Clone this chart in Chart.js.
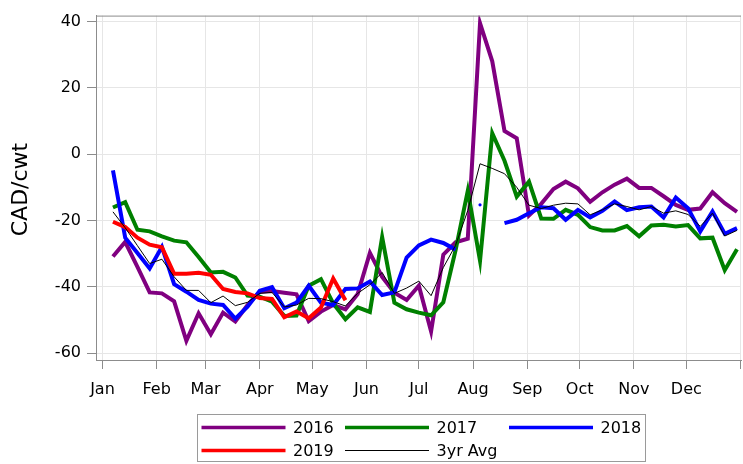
<!DOCTYPE html>
<html><head><meta charset="utf-8">
<script src="https://cdn.jsdelivr.net/npm/chart.js@4/dist/chart.umd.min.js"></script>
<style>html,body{margin:0;padding:0;background:#fff}#wrap{width:743px;height:464px;position:relative}</style>
</head><body><div id="wrap"><canvas id="c" width="743" height="464"></canvas></div>
<script>
// Week positions (day of year)
const weekDays = [6,13,20,27,34,41,48,55,62,69,76,83,90,97,104,111,118,125,132,139,146,153,160,167,174,181,188,195,202,209,216,223,230,237,244,251,258,265,272,279,286,293,300,307,314,321,328,335,342,349,356,363];
const monthTicks = [0,31,59,90,120,151,181,212,243,273,304,334,365];
const monthLabels = ['Jan','Feb','Mar','Apr','May','Jun','Jul','Aug','Sep','Oct','Nov','Dec',''];
const yTicks = [-60,-40,-20,0,20,40];

const s2016 = [-30.9,-26.5,-34,-41.7,-42,-44.4,-56.3,-48,-54.3,-47.8,-50.5,-45.5,-41.5,-41.3,-41.8,-42.3,-50.4,-47.5,-45.5,-46.8,-42.2,-29.8,-37,-41.8,-44,-39.7,-53.5,-30.3,-26.6,-25.5,39.5,28,7,4.8,-18.5,-15,-10.5,-8.3,-10.3,-14.4,-11.5,-9.2,-7.4,-10.2,-10.2,-12.7,-15.3,-16.8,-16.4,-11.5,-14.8,-17.4];
const s2017 = [-16.1,-14.5,-22.8,-23.3,-24.8,-26.1,-26.6,-31,-35.7,-35.5,-37.2,-42.7,-43,-44.5,-48.8,-48.7,-39.7,-37.7,-45,-49.8,-46.2,-47.6,-25,-44.8,-46.8,-47.8,-48.6,-44.7,-29,-11,-32.2,6.3,-2,-12.8,-8.3,-19.4,-19.5,-16.8,-18.3,-22,-23,-23,-21.7,-24.8,-21.5,-21.3,-21.8,-21.4,-25.4,-25.2,-35,-28.7];
const s2018 = [-4.9,-25.2,-29.8,-34.5,-28,-39.2,-41.5,-44,-45.1,-45.5,-49.6,-46,-41.2,-40.1,-46.5,-44.8,-39.7,-44.8,-45.5,-40.7,-40.5,-38.4,-42.5,-41.7,-31.2,-27.5,-25.8,-26.8,-28.8,null,-15.3,null,-20.8,-19.8,-17.8,-16,-16.3,-19.8,-16.8,-19.1,-17.1,-14.3,-16.9,-16,-15.8,-19.1,-13.1,-16.3,-23.3,-17.3,-24,-22.3];
const s2019 = [-20.4,-22,-25.2,-27.3,-28.1,-36.1,-36.1,-35.8,-36.4,-40.7,-41.6,-42,-43.4,-43.7,-49.2,-47.5,-49.5,-46.3,-37.5,-44.1];
const sAvg = [-17.4,-22.2,-27.6,-33,-31.7,-37,-41.1,-41.1,-44.8,-42.8,-45.7,-44.7,-42,-41.7,-46.1,-45.5,-43.5,-43.6,-44.5,-45.8,-42,-39.4,-35.7,-42,-40.4,-38.3,-42.7,-34.2,-27.5,-17,-2.9,-4.3,-5.9,-10,-15.4,-16.4,-15.4,-14.8,-15,-18.3,-16.8,-15,-15.8,-16.8,-15.8,-17.8,-17.1,-18.2,-21.8,-17.8,-24.7,-23];

const FONT = 'DejaVu Sans';
function pts(arr){ return arr.map((v,i)=>({x:weekDays[i], y:v})); }
function isolatedRadius(ctx){
  const d = ctx.dataset.data, i = ctx.dataIndex;
  if (!d[i] || d[i].y === null) return 0;
  const prev = i>0 ? d[i-1] : null, next = i<d.length-1 ? d[i+1] : null;
  const pn = !prev || prev.y === null, nn = !next || next.y === null;
  return (pn && nn) ? 1.6 : 0;
}
const series = [
  {label:'2016', data:s2016, color:'#800080', w:4, order:4},
  {label:'2017', data:s2017, color:'#008000', w:4, order:3},
  {label:'2018', data:s2018, color:'#0000ff', w:4, order:2},
  {label:'2019', data:s2019, color:'#ff0000', w:4, order:1},
  {label:'3yr Avg', data:sAvg, color:'#000000', w:1, order:0}
];

const frameAndText = {
  id:'frameAndText',
  afterDraw(chart){
    const c = chart.ctx, a = chart.chartArea;
    c.save();
    c.strokeStyle = '#8c8c8c'; c.lineWidth = 1;
    c.beginPath(); c.moveTo(a.left, a.top+0.5); c.lineTo(a.right, a.top+0.5); c.stroke();
    c.fillStyle = '#000';
    c.font = '22px "' + FONT + '"';
    c.translate(27, 189.5); c.rotate(-Math.PI/2);
    c.textAlign = 'center'; c.textBaseline = 'alphabetic';
    c.fillText('CAD/cwt', 0, 0);
    c.restore();
    c.save();
    c.strokeStyle = '#9a9a9a'; c.lineWidth = 1;
    c.strokeRect(197.5, 414.5, 448, 47);
    const pos = [[201.5,427.5],[345,427.5],[509,427.5],[201.5,450.5],[345,450.5]];
    c.font = '16px "' + FONT + '"';
    c.textBaseline = 'middle'; c.textAlign = 'left'; c.fillStyle = '#000';
    series.forEach((s,k)=>{
      const [x,y] = pos[k];
      c.strokeStyle = s.color; c.lineWidth = s.w === 4 ? 3.5 : 1;
      c.beginPath(); c.moveTo(x, y); c.lineTo(x+84, y); c.stroke();
      c.fillText(s.label, x+91.5, y+1);
    });
    c.restore();
  }
};

new Chart(document.getElementById('c'), {
  type:'line',
  data:{ datasets: series.map(s=>({
    label:s.label, data:pts(s.data), borderColor:s.color, backgroundColor:s.color,
    borderWidth:s.w, pointRadius:isolatedRadius, pointHoverRadius:0, pointBorderWidth:0,
    tension:0, spanGaps:false, fill:false, order:s.order, borderJoinStyle:'miter'
  }))},
  options:{
    responsive:false, animation:false, devicePixelRatio:1,
    layout:{ padding:{ top:12, right:2, left:0, bottom:0 } },
    plugins:{ legend:{display:false}, tooltip:{enabled:false} },
    scales:{
      x:{
        type:'linear', min:-3.7, max:365.3,
        afterBuildTicks:(s)=>{ s.ticks = monthTicks.map(v=>({value:v})); },
        afterFit:(s)=>{ s.height = 104; s.paddingLeft = 0; s.paddingRight = 0; },
        ticks:{ autoSkip:false, maxRotation:0, color:'#000', padding:11,
          font:{family:FONT, size:16},
          callback:(v)=> monthLabels[monthTicks.indexOf(v)] },
        grid:{ color:'#e6e6e6', tickColor:'#8c8c8c', tickLength:9, drawTicks:true },
        border:{ color:'#8c8c8c', width:1 }
      },
      y:{
        type:'linear', min:-62.1, max:41.8,
        afterBuildTicks:(s)=>{ s.ticks = yTicks.map(v=>({value:v})); },
        afterFit:(s)=>{ s.width = 96; },
        ticks:{ color:'#000', padding:6, font:{family:FONT, size:16},
          callback:(v)=> String(v) },
        grid:{ color:'#e6e6e6', tickColor:'#8c8c8c', tickLength:9, drawTicks:true },
        border:{ color:'#8c8c8c', width:1 }
      }
    }
  },
  plugins:[frameAndText]
});
</script></body></html>
